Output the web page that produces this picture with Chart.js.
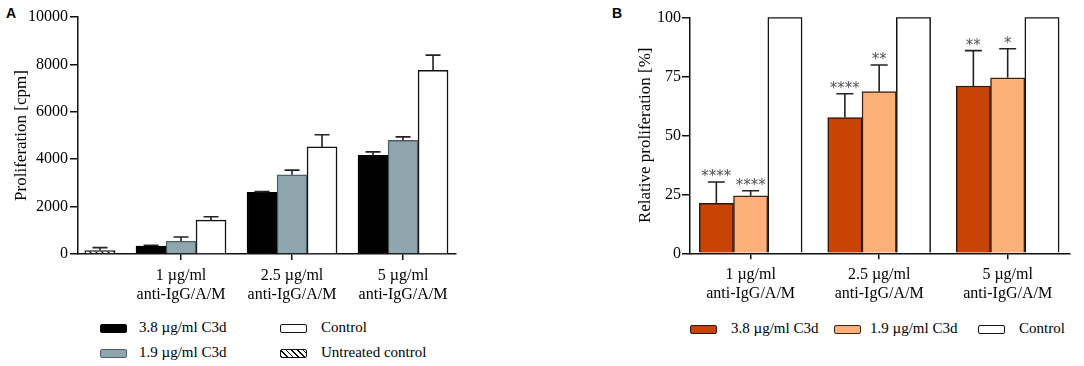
<!DOCTYPE html>
<html>
<head>
<meta charset="utf-8">
<script src="https://cdn.jsdelivr.net/npm/chart.js@4.4.0/dist/chart.umd.min.js"></script>
<style>
    html, body { margin: 0; padding: 0; background: #fff; }
    #page { position: relative; width: 1084px; height: 366px; overflow: hidden;
            font-family: 'Liberation Serif', 'Times New Roman', serif; color: #000; }
    .panel-label { position: absolute; font: bold 14px 'Liberation Sans', Arial, sans-serif; }
    canvas { position: absolute; top: 0; }
    .lg-box { position: absolute; width: 27px; height: 9px; box-sizing: border-box; border-radius: 2px; }
    .lg-text { position: absolute; font-size: 15px; line-height: 18px; white-space: nowrap; }
</style>
</head>
<body>
<div id="page">
    <div class="panel-label" style="left:6px;top:5px">A</div>
    <div class="panel-label" style="left:612px;top:5px">B</div>
    <canvas id="chartA" width="545" height="312" style="left:0"></canvas>
    <canvas id="chartB" width="504" height="312" style="left:580px"></canvas>
    <div id="legendA"></div>
    <div id="legendB"></div>
</div>
<script>
// 共通カテゴリ
const groupLabels = [
    ['1 µg/ml', 'anti-IgG/A/M'],
    ['2.5 µg/ml', 'anti-IgG/A/M'],
    ['5 µg/ml', 'anti-IgG/A/M']
];
const groupPos = [1, 2, 3];
const untreatedPos = [0.27];
const seriesNames = ['3.8 µg/ml C3d', '1.9 µg/ml C3d', 'Control'];
const untreatedName = 'Untreated control';

// A: Proliferation [cpm]
const cpmC3dHigh = [330, 2600, 4160];
const cpmC3dHighErr = [40, 30, 150];
const cpmC3dLow = [540, 3340, 4800];
const cpmC3dLowErr = [180, 200, 140];
const cpmControl = [1430, 4520, 7750];
const cpmControlErr = [140, 510, 640];
const cpmUntreated = [160];
const cpmUntreatedErr = [110];
const cpmTicks = [0, 2000, 4000, 6000, 8000, 10000];

// B: Relative proliferation [%]
const relC3dHigh = [21.2, 57.5, 70.9];
const relC3dHighErr = [9.0, 10.1, 15.0];
const relC3dLow = [24.4, 68.5, 74.4];
const relC3dLowErr = [2.1, 11.3, 12.3];
const relControl = [100, 100, 100];
const relStarsHigh = ['****', '****', '**'];
const relStarsLow = ['****', '**', '*'];
const relTicks = [0, 25, 50, 75, 100];

const SERIF = "'Liberation Serif', 'Times New Roman', serif";

// 斜線パターン (Untreated control)
function makeHatch() {
    const c = document.createElement('canvas');
    c.width = 6; c.height = 6;
    const g = c.getContext('2d');
    g.fillStyle = '#fff';
    g.fillRect(0, 0, 6, 6);
    g.strokeStyle = '#000';
    g.lineWidth = 1.2;
    g.beginPath();
    g.moveTo(0, 0); g.lineTo(6, 6);
    g.moveTo(-3, 3); g.lineTo(3, 9);
    g.moveTo(3, -3); g.lineTo(9, 3);
    g.stroke();
    return g.createPattern(c, 'repeat');
}

function xy(pos, vals) {
    return vals.map((v, i) => ({ x: pos[i], y: v }));
}

// エラーバーとアスタリスク
const errorBarPlugin = {
    id: 'errorBars',
    afterDatasetsDraw(chart, args, opts) {
        const ctx = chart.ctx;
        const yScale = chart.scales.y;
        chart.data.datasets.forEach((ds, i) => {
            if (!ds.errors) return;
            const meta = chart.getDatasetMeta(i);
            meta.data.forEach((bar, j) => {
                const err = ds.errors[j];
                if (!err) return;
                const top = yScale.getPixelForValue(ds.data[j].y + err);
                ctx.save();
                ctx.strokeStyle = '#222';
                ctx.lineWidth = 1.6;
                ctx.beginPath();
                ctx.moveTo(bar.x, bar.y);
                ctx.lineTo(bar.x, top);
                ctx.moveTo(bar.x - opts.cap / 2, top);
                ctx.lineTo(bar.x + opts.cap / 2, top);
                ctx.stroke();
                if (ds.stars && ds.stars[j]) {
                    ctx.fillStyle = '#555';
                    ctx.font = "15px 'DejaVu Sans', sans-serif";
                    ctx.textAlign = 'center';
                    ctx.textBaseline = 'alphabetic';
                    ctx.fillText(ds.stars[j], bar.x, top - 1);
                }
                ctx.restore();
            });
        });
    }
};

function axisCommon(tickLen) {
    return {
        grid: { display: true, drawOnChartArea: false, drawTicks: true, tickLength: tickLen,
                color: '#111', lineWidth: 1.5, offset: false },
        border: { display: true, color: '#111', width: 1.5 }
    };
}

function xAxis(min, max, height) {
    return Object.assign(axisCommon(6), {
        type: 'linear',
        min: min,
        max: max,
        offset: false,
        afterBuildTicks: s => { s.ticks = groupPos.map(v => ({ value: v })); },
        afterFit: s => { s.height = height; },
        ticks: {
            autoSkip: false,
            maxRotation: 0,
            padding: 6,
            color: '#000',
            font: { family: SERIF, size: 16 },
            callback: v => {
                const i = groupPos.indexOf(v);
                return i >= 0 ? groupLabels[i] : '';
            }
        }
    });
}

function yAxis(ticks, title, width, titlePad, labelPad) {
    return Object.assign(axisCommon(8), {
        min: ticks[0],
        max: ticks[ticks.length - 1],
        afterBuildTicks: s => { s.ticks = ticks.map(v => ({ value: v })); },
        afterFit: s => { s.width = width; },
        ticks: { padding: labelPad, color: '#000', font: { family: SERIF, size: 16 },
                 callback: v => String(v) },
        title: { display: true, text: title, color: '#000',
                 font: { family: SERIF, size: 17 }, padding: { top: titlePad, bottom: 0 } }
    });
}

function baseOptions(xScale, yScale, padding, cap) {
    return {
        responsive: false,
        devicePixelRatio: 1,
        animation: false,
        layout: { padding: padding },
        plugins: { legend: { display: false }, tooltip: { enabled: false }, errorBars: { cap: cap } },
        scales: { x: xScale, y: yScale }
    };
}

// パネル A
const hatch = makeHatch();
new Chart(document.getElementById('chartA'), {
    type: 'bar',
    data: {
        datasets: [
            { label: seriesNames[0], data: xy(groupPos, cpmC3dHigh), errors: cpmC3dHighErr,
              backgroundColor: '#000', borderColor: '#000', borderWidth: 1.5, barThickness: 30 },
            { label: seriesNames[1], data: xy(groupPos, cpmC3dLow), errors: cpmC3dLowErr,
              backgroundColor: '#8fa6ae', borderColor: '#4f5f66', borderWidth: 1.5, barThickness: 30 },
            { label: seriesNames[2], data: xy(groupPos, cpmControl), errors: cpmControlErr,
              backgroundColor: '#fff', borderColor: '#111', borderWidth: 1.5, barThickness: 30 },
            { label: untreatedName, data: xy(untreatedPos, cpmUntreated), errors: cpmUntreatedErr,
              backgroundColor: hatch, borderColor: '#111', borderWidth: 1.5, grouped: false, maxBarThickness: 31 }
        ]
    },
    options: baseOptions(
        xAxis(0.072, 3.477, 58),
        yAxis(cpmTicks, 'Proliferation [cpm]', 78, 11, 2),
        { top: 17, right: 89, left: 0, bottom: 0 },
        15
    ),
    plugins: [errorBarPlugin]
});

// パネル B
new Chart(document.getElementById('chartB'), {
    type: 'bar',
    data: {
        datasets: [
            { label: seriesNames[0], data: xy(groupPos, relC3dHigh), errors: relC3dHighErr, stars: relStarsHigh,
              backgroundColor: '#c84406', borderColor: '#2e1508', borderWidth: 1.5, barThickness: 34.3 },
            { label: seriesNames[1], data: xy(groupPos, relC3dLow), errors: relC3dLowErr, stars: relStarsLow,
              backgroundColor: '#fdaf7a', borderColor: '#3a2616', borderWidth: 1.5, barThickness: 34.3 },
            { label: seriesNames[2], data: xy(groupPos, relControl),
              backgroundColor: '#fff', borderColor: '#111', borderWidth: 1.5, barThickness: 34.3 }
        ]
    },
    options: baseOptions(
        xAxis(0.528, 3.485, 58.7),
        yAxis(relTicks, 'Relative proliferation [%]', 110, 55, 1),
        { top: 17.3, right: 14, left: 0, bottom: 0 },
        17
    ),
    plugins: [errorBarPlugin]
});

// 凡例 (HTML)
function addLegend(containerId, items) {
    const el = document.getElementById(containerId);
    items.forEach(it => {
        const box = document.createElement('div');
        box.className = 'lg-box';
        box.style.left = it.bx + 'px';
        box.style.top = (it.y - 4.5) + 'px';
        box.style.background = it.fill;
        box.style.border = '1.5px solid ' + it.border;
        el.appendChild(box);
        const txt = document.createElement('div');
        txt.className = 'lg-text';
        txt.style.left = it.tx + 'px';
        txt.style.top = (it.y - 10) + 'px';
        txt.textContent = it.text;
        el.appendChild(txt);
    });
}

const hatchCss = 'repeating-linear-gradient(45deg, #000 0 1px, #fff 1px 4px)';
addLegend('legendA', [
    { text: seriesNames[0], fill: '#000', border: '#000', bx: 100, tx: 139, y: 328 },
    { text: seriesNames[1], fill: '#8fa6ae', border: '#4f5f66', bx: 100, tx: 139, y: 353 },
    { text: seriesNames[2], fill: '#fff', border: '#111', bx: 280, tx: 321, y: 328 },
    { text: untreatedName, fill: hatchCss, border: '#111', bx: 280, tx: 321, y: 353 }
]);
addLegend('legendB', [
    { text: seriesNames[0], fill: '#c84406', border: '#2e1508', bx: 690, tx: 731, y: 329 },
    { text: seriesNames[1], fill: '#fdaf7a', border: '#3a2616', bx: 834, tx: 870, y: 329 },
    { text: seriesNames[2], fill: '#fff', border: '#111', bx: 978, tx: 1019, y: 329 }
]);
</script>
</body>
</html>
